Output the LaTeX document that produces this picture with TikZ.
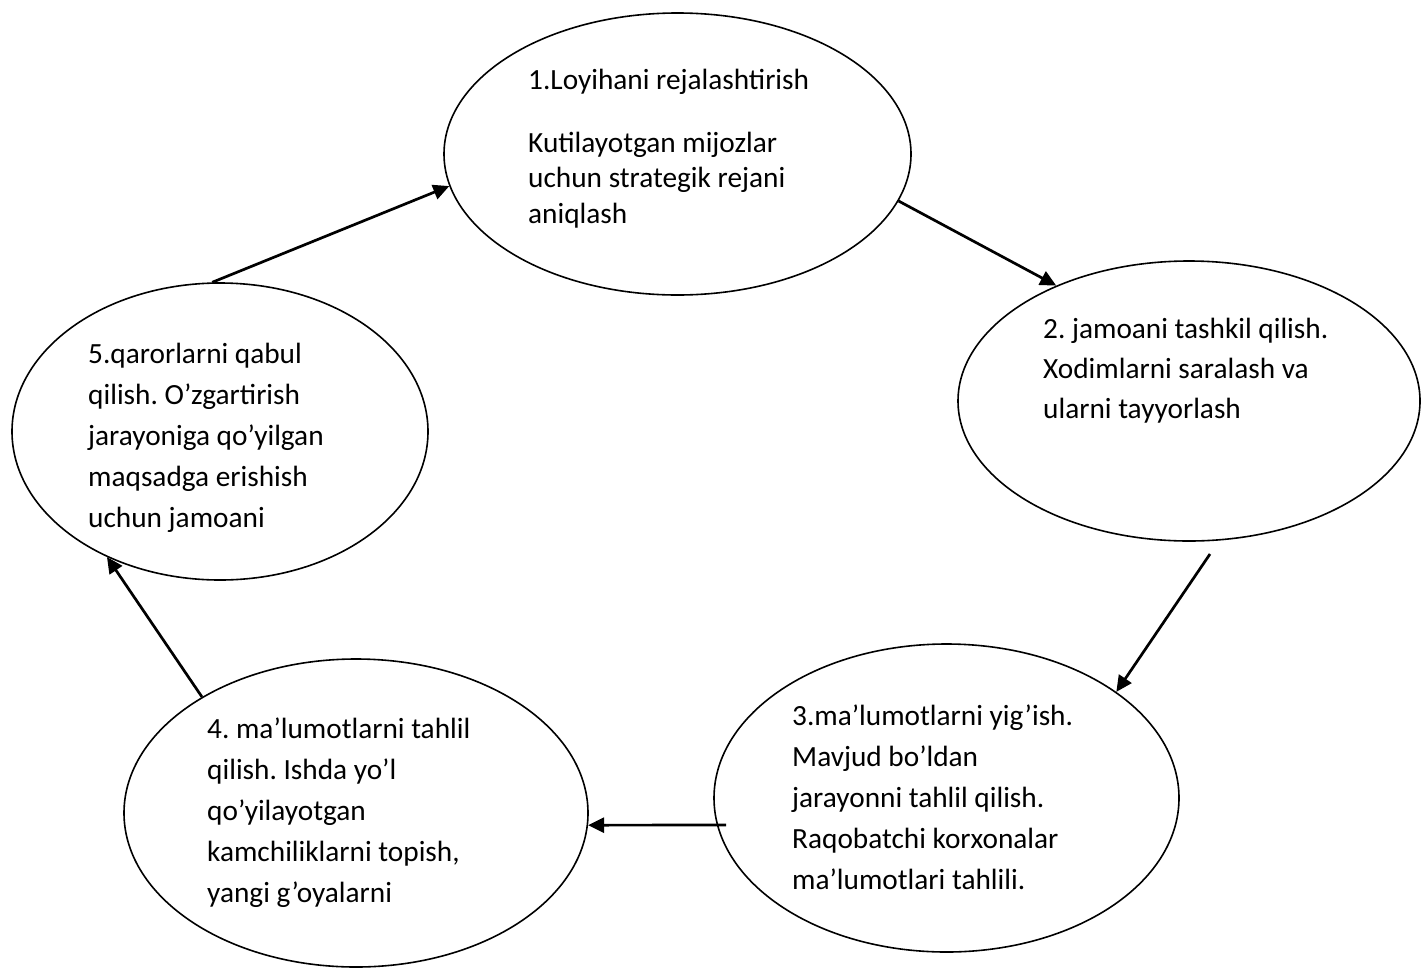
\documentclass[tikz,border=0pt]{standalone}
\usepackage{fontspec}
\setmainfont{Carlito}
\usetikzlibrary{shapes.geometric,arrows.meta}
\begin{document}
\frenchspacing
\begin{tikzpicture}[
    x=1pt, y=-1pt,
    phase/.style={draw, ellipse, line width=1.6pt, inner sep=0pt},
    caption/.style={anchor=base west, align=left, inner sep=0pt,
        font=\fontsize{29.3}{41}\selectfont},
    flow/.style={line width=2.7pt, -{Triangle[length=16pt,width=15pt]}}
]
\useasboundingbox (0,0) rectangle (1421,967);
% the five phases
\node[phase, minimum width=467pt, minimum height=282pt] (p1) at (677.5,154) {};
\node[phase, minimum width=462pt, minimum height=280pt] (p2) at (1189,401) {};
\node[phase, minimum width=465pt, minimum height=308pt] (p3) at (946.5,798) {};
\node[phase, minimum width=464pt, minimum height=308pt] (p4) at (356,813) {};
\node[phase, minimum width=416pt, minimum height=297pt] (p5) at (220,431.5) {};
% texts (placed at the baseline of their last line)
\node[caption, font=\fontsize{29.3}{35.5}\selectfont] (t1) at (528,223)
    {1.Loyihani rejalashtirish\\[27pt]Kutilayotgan mijozlar\\uchun strategik rejani\\aniqlash};
\node[caption, font=\fontsize{29.3}{40}\selectfont] (t2) at (1043,418)
    {2. jamoani tashkil qilish.\\Xodimlarni saralash va\\ularni tayyorlash};
\node[caption] (t3) at (792,889)
    {3.ma’lumotlarni yig’ish.\\Mavjud bo’ldan\\jarayonni tahlil qilish.\\Raqobatchi korxonalar\\ma’lumotlari tahlili.};
\node[caption] (t4) at (207,902)
    {4. ma’lumotlarni tahlil\\qilish. Ishda yo’l\\qo’yilayotgan\\kamchiliklarni topish,\\yangi g’oyalarni};
\node[caption] (t5) at (88,527)
    {5.qarorlarni qabul\\qilish. O’zgartirish\\jarayoniga qo’yilgan\\maqsadga erishish\\uchun jamoani};
% loose ends of two arrows
\coordinate (s23) at (1210,554);
\coordinate (s34) at (726,825);
% arrows
\draw[flow] (p5.93) -- (p1.188);
\draw[flow] (p1.-12) -- (p2.139);
\draw[flow] (s23) -- (p3.32);
\draw[flow] (s34) -- (p4.-3);
\draw[flow] (p4.143) -- (p5.228);
\end{tikzpicture}
\end{document}
